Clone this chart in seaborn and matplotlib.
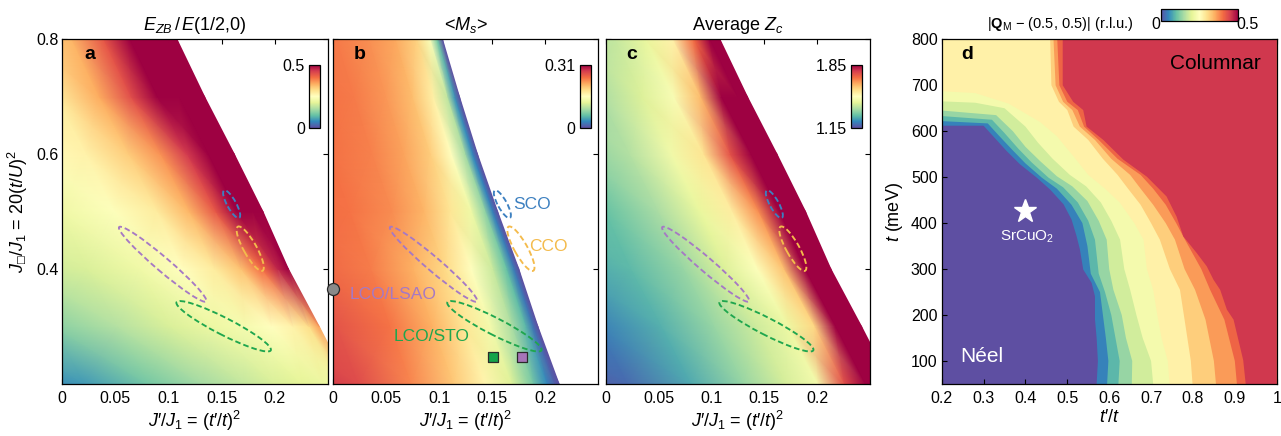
import numpy as np
import matplotlib
matplotlib.use("Agg")
import matplotlib.pyplot as plt
import seaborn as sns
from matplotlib.patches import Ellipse
from matplotlib.transforms import Affine2D
from matplotlib.colors import Normalize
from matplotlib.cm import ScalarMappable

sns.set_theme(style="ticks")
plt.rcParams.update({
    "font.family": ["Liberation Sans", "DejaVu Sans"],
    "mathtext.fontset": "custom",
    "mathtext.rm": "Liberation Sans",
    "mathtext.it": "Liberation Sans:italic",
    "mathtext.bf": "Liberation Sans:bold",
    "mathtext.fallback": "stix",
    "axes.edgecolor": "black",
    "axes.linewidth": 0.9,
    "xtick.color": "black", "ytick.color": "black",
    "xtick.direction": "in", "ytick.direction": "in",
    "xtick.top": True, "ytick.right": True,
    "xtick.major.size": 3.6, "ytick.major.size": 3.6,
    "xtick.major.width": 0.8, "ytick.major.width": 0.8,
    "xtick.labelsize": 11.5, "ytick.labelsize": 11.5,
    "xtick.major.pad": 5, "ytick.major.pad": 2.5,
    "text.color": "black", "axes.labelcolor": "black",
})

cmap = sns.color_palette("Spectral_r", as_cmap=True)

# ---------------------------------------------------------------------------
# Panels a-c: maps over (J'/J1, J_box/J1), tabulated row by row.
# Each row lists values at fixed distances to the left of the boundary of the
# stable region (white beyond it).
jbox_rows = [0.2, 0.3, 0.4, 0.5, 0.6, 0.7, 0.8]
edge_ac = [0.270, 0.242, 0.213, 0.189, 0.162, 0.134, 0.108]
edge_b = [0.213, 0.193, 0.175, 0.155, 0.136, 0.119, 0.103]
depth_ac = [0, 0.01, 0.025, 0.045, 0.07, 0.10, 0.14, 0.19, 0.25, 0.30]
depth_b = [0, 0.005, 0.012, 0.025, 0.045, 0.07, 0.10, 0.14, 0.19, 0.25, 0.30]

# E_ZB / E(1/2,0)
ezb_ratio = [
    [0.23, 0.22, 0.21, 0.20, 0.19, 0.17, 0.145, 0.11, 0.065, 0.045],
    [0.36, 0.30, 0.27, 0.25, 0.23, 0.215, 0.19, 0.16, 0.125, 0.12],
    [0.52, 0.47, 0.40, 0.33, 0.28, 0.25, 0.22, 0.19, 0.175, 0.175],
    [0.58, 0.55, 0.50, 0.42, 0.34, 0.28, 0.245, 0.22, 0.21, 0.21],
    [0.62, 0.57, 0.51, 0.45, 0.37, 0.32, 0.27, 0.25, 0.24, 0.24],
    [0.62, 0.58, 0.55, 0.51, 0.43, 0.35, 0.28, 0.27, 0.27, 0.27],
    [0.62, 0.58, 0.55, 0.51, 0.42, 0.34, 0.31, 0.30, 0.30, 0.30],
]
# staggered moment <M_s>
ms_moment = [
    [0.0, 0.012, 0.032, 0.07, 0.12, 0.165, 0.20, 0.235, 0.27, 0.287, 0.29],
    [0.0, 0.022, 0.058, 0.095, 0.14, 0.18, 0.215, 0.245, 0.263, 0.265, 0.265],
    [0.0, 0.025, 0.064, 0.11, 0.155, 0.19, 0.215, 0.24, 0.254, 0.254, 0.254],
    [0.0, 0.028, 0.082, 0.135, 0.18, 0.212, 0.233, 0.245, 0.25, 0.25, 0.25],
    [0.0, 0.032, 0.092, 0.155, 0.198, 0.222, 0.238, 0.247, 0.248, 0.248, 0.248],
    [0.0, 0.038, 0.105, 0.17, 0.208, 0.228, 0.242, 0.248, 0.248, 0.248, 0.248],
    [0.0, 0.07, 0.15, 0.195, 0.22, 0.232, 0.242, 0.245, 0.245, 0.245, 0.245],
]
# average Z_c
zc_average = [
    [1.95, 1.93, 1.90, 1.75, 1.465, 1.41, 1.34, 1.26, 1.185, 1.16],
    [1.95, 1.92, 1.86, 1.58, 1.45, 1.40, 1.34, 1.27, 1.21, 1.21],
    [1.95, 1.92, 1.86, 1.61, 1.49, 1.42, 1.34, 1.28, 1.25, 1.25],
    [1.95, 1.92, 1.87, 1.67, 1.54, 1.44, 1.36, 1.29, 1.29, 1.29],
    [1.95, 1.92, 1.88, 1.745, 1.56, 1.46, 1.37, 1.32, 1.32, 1.32],
    [1.95, 1.90, 1.85, 1.62, 1.48, 1.42, 1.36, 1.35, 1.35, 1.35],
    [1.95, 1.87, 1.71, 1.53, 1.44, 1.39, 1.37, 1.36, 1.36, 1.36],
]

# material regions: ends of the long axis (J'/J1, J_box/J1) and width in px
materials = ["SCO", "CCO", "LCO/LSAO", "LCO/STO"]
region_tips = [
    [(0.152, 0.538), (0.167, 0.488)],
    [(0.165, 0.475), (0.189, 0.396)],
    [(0.053, 0.474), (0.136, 0.343)],
    [(0.107, 0.343), (0.197, 0.258)],
]
region_width = [9, 13, 14, 17]
region_colors = ["#3d80c0", "#f4bb4c", "#a679c4", "#1fa64e"]
label_pos = [(0.187, 0.512), (0.203, 0.439), (0.056, 0.355), (0.093, 0.282)]

# samples in panel b
circle_pt = (0.0, 0.365)
square_x = [0.151, 0.178]
square_y = [0.247, 0.247]
square_colors = ["#15a34a", "#a775b8"]

# ---------------------------------------------------------------------------
# Panel d: contours between the colour bands of |Q_M - (0.5,0.5)| in the
# (t'/t, t) plane, from the bottom of the map to where they leave it.
contour_1 = [(0.570, 50), (0.573, 100), (0.570, 150), (0.566, 191), (0.566, 241),
             (0.558, 270), (0.538, 299), (0.530, 343), (0.522, 372), (0.510, 408),
             (0.491, 441), (0.459, 473), (0.427, 499), (0.387, 528), (0.355, 557),
             (0.323, 589), (0.300, 612), (0.2, 612)]
contour_2 = [(0.595, 50), (0.598, 100), (0.592, 150), (0.585, 200), (0.578, 250),
             (0.556, 290), (0.548, 350), (0.536, 400), (0.510, 440), (0.475, 475),
             (0.439, 499), (0.400, 530), (0.368, 560), (0.335, 592), (0.310, 617),
             (0.2, 622)]
contour_3 = [(0.622, 50), (0.625, 100), (0.615, 150), (0.605, 200), (0.590, 250),
             (0.575, 290), (0.566, 364), (0.550, 405), (0.525, 445), (0.490, 478),
             (0.455, 499), (0.415, 532), (0.383, 562), (0.350, 596), (0.320, 625),
             (0.2, 633)]
contour_4 = [(0.654, 50), (0.655, 100), (0.640, 150), (0.630, 200), (0.610, 255),
             (0.600, 300), (0.594, 364), (0.575, 405), (0.548, 448), (0.512, 480),
             (0.475, 502), (0.435, 535), (0.400, 566), (0.370, 600), (0.330, 635),
             (0.2, 645)]
contour_5 = [(0.705, 50), (0.700, 100), (0.680, 150), (0.665, 200), (0.650, 255),
             (0.636, 300), (0.626, 364), (0.605, 405), (0.580, 445), (0.545, 480),
             (0.506, 505), (0.465, 540), (0.430, 575), (0.400, 610), (0.350, 650),
             (0.28, 662), (0.2, 665)]
contour_6 = [(0.744, 50), (0.740, 100), (0.725, 150), (0.715, 200), (0.705, 255),
             (0.690, 300), (0.682, 364), (0.660, 400), (0.625, 445), (0.590, 475),
             (0.550, 505), (0.515, 545), (0.475, 589), (0.435, 620), (0.360, 660),
             (0.28, 683), (0.2, 687)]
contour_7 = [(0.799, 50), (0.795, 100), (0.780, 190), (0.769, 255), (0.745, 300),
             (0.721, 364), (0.700, 400), (0.675, 440), (0.645, 475), (0.620, 505),
             (0.585, 540), (0.550, 581), (0.515, 610), (0.500, 646), (0.480, 664),
             (0.462, 700), (0.459, 800)]
contour_8 = [(0.855, 50), (0.850, 100), (0.830, 190), (0.805, 255), (0.780, 300),
             (0.757, 364), (0.735, 400), (0.705, 440), (0.675, 475), (0.650, 505),
             (0.605, 540), (0.566, 581), (0.530, 610), (0.512, 646), (0.490, 664),
             (0.472, 700), (0.467, 800)]
contour_9 = [(0.905, 50), (0.900, 100), (0.875, 190), (0.841, 255), (0.820, 300),
             (0.781, 364), (0.760, 400), (0.735, 440), (0.705, 475), (0.675, 505),
             (0.620, 540), (0.575, 581), (0.540, 610), (0.525, 646), (0.500, 664),
             (0.481, 700), (0.476, 800)]
contour_10 = [(0.926, 50), (0.920, 102), (0.897, 190), (0.881, 212), (0.865, 255),
              (0.849, 277), (0.833, 306), (0.809, 335), (0.777, 371), (0.761, 414),
              (0.737, 458), (0.690, 501), (0.634, 538), (0.586, 581), (0.546, 610),
              (0.538, 646), (0.514, 664), (0.489, 700), (0.489, 800)]
contours_d = [contour_1, contour_2, contour_3, contour_4, contour_5,
              contour_6, contour_7, contour_8, contour_9, contour_10]
star_pt = (0.40, 427)

# ---------------------------------------------------------------------------
W, H = 1281, 436
fig = plt.figure(figsize=(W / 100, H / 100), dpi=100)


def add_axes(left, top, right, bottom):
    return fig.add_axes([left / W, 1 - bottom / H, (right - left) / W, (bottom - top) / H])


ax_a = add_axes(62.3, 39.3, 327.7, 384)
ax_b = add_axes(333.3, 39.3, 598.3, 384)
ax_c = add_axes(605.7, 39.3, 870, 384)
ax_d = add_axes(941.7, 39.3, 1276.7, 384)

XLIM, YLIM = (0, 0.25), (0.2, 0.8)
LABEL_FS = 13


def draw_map(ax, edge, depth, table, vmin, vmax):
    X = np.array(edge)[:, None] - np.array(depth)[None, :]
    Y = np.repeat(np.array(jbox_rows)[:, None], len(depth), axis=1)
    ax.pcolormesh(X, Y, np.array(table), shading="gouraud", cmap=cmap,
                  vmin=vmin, vmax=vmax, rasterized=True)
    ax.set_xlim(*XLIM)
    ax.set_ylim(*YLIM)
    ax.set_xticks([0, 0.05, 0.1, 0.15, 0.2], ["0", "0.05", "0.1", "0.15", "0.2"])
    ax.set_yticks([0.4, 0.6, 0.8])
    ax.set_xlabel("$J$′/$J_1$ = ($t$′/$t$)$^2$", fontsize=LABEL_FS, labelpad=2)


def inner_colorbar(ax, vmin, vmax, labels):
    cax = ax.inset_axes([0.93, 0.743, 0.041, 0.183])
    cb = fig.colorbar(ScalarMappable(Normalize(vmin, vmax), cmap), cax=cax)
    cb.outline.set_linewidth(0.9)
    cb.set_ticks([vmin, vmax], labels=labels)
    cax.yaxis.set_ticks_position("left")
    cax.tick_params(length=0, pad=3, labelsize=11.5, right=False)


def draw_regions(ax):
    bb = ax.get_position()
    sx = bb.width * W / (XLIM[1] - XLIM[0])
    sy = bb.height * H / (YLIM[1] - YLIM[0])
    to_data = Affine2D().scale(1 / sx, 1 / sy) + ax.transData
    for (p1, p2), wpx, col in zip(region_tips, region_width, region_colors):
        u1, v1, u2, v2 = p1[0] * sx, p1[1] * sy, p2[0] * sx, p2[1] * sy
        length = np.hypot(u2 - u1, v2 - v1)
        ang = np.degrees(np.arctan2(v2 - v1, u2 - u1))
        ax.add_patch(Ellipse(((u1 + u2) / 2, (v1 + v2) / 2), length - 1.5, wpx,
                             angle=ang, fill=False, ec=col, lw=1.35,
                             ls=(0, (3.0, 1.6)), transform=to_data))


def panel_letter(ax, s, x, y):
    ax.text(x, y, s, transform=ax.transAxes, fontsize=14, fontweight="bold",
            ha="center", va="center")


draw_map(ax_a, edge_ac, depth_ac, ezb_ratio, 0, 0.5)
draw_map(ax_b, edge_b, depth_b, ms_moment, 0, 0.31)
draw_map(ax_c, edge_ac, depth_ac, zc_average, 1.15, 1.85)
for ax in (ax_b, ax_c):
    ax.tick_params(labelleft=False)

ax_a.set_ylabel("$J_{□}/J_1$ = 20($t/U$)$^2$", fontsize=LABEL_FS, labelpad=5)
ax_a.set_title(r"$E_{ZB}\,/\,E$(1/2,0)", fontsize=LABEL_FS, pad=7)
ax_b.set_title(r"<$M_s$>", fontsize=LABEL_FS, pad=7)
ax_c.set_title(r"Average $Z_c$", fontsize=LABEL_FS, pad=7)

inner_colorbar(ax_a, 0, 0.5, ["0", "0.5"])
inner_colorbar(ax_b, 0, 0.31, ["0", "0.31"])
inner_colorbar(ax_c, 1.15, 1.85, ["1.15", "1.85"])

for ax in (ax_a, ax_b, ax_c):
    draw_regions(ax)

for name, col, (lx, ly) in zip(materials, region_colors, label_pos):
    ax_b.text(lx, ly, name, color=col, fontsize=12.5, ha="center", va="center")

sns.scatterplot(x=[circle_pt[0]], y=[circle_pt[1]], ax=ax_b, s=75, color="#8a8a8a",
                edgecolor="#2b2b2b", linewidth=0.9, clip_on=False, zorder=5)
sns.scatterplot(x=square_x, y=square_y, ax=ax_b, s=50, marker="s",
                hue=[0, 1], palette=square_colors, legend=False,
                edgecolor="#2b2b2b", linewidth=0.9, zorder=5)

panel_letter(ax_a, "a", 0.105, 0.955)
panel_letter(ax_b, "b", 0.10, 0.955)
panel_letter(ax_c, "c", 0.10, 0.955)

# ---------------------------------------------------------------------------
# panel d: banded map
band_colors = cmap(np.linspace(0, 10 / 11, 11))
x_lo, x_hi, t_lo, t_hi = 0.2, 1.0, 50, 800
ax_d.set_facecolor(band_colors[0])
for k, contour in enumerate(contours_d, start=1):
    xs = [p[0] for p in contour]
    ts = [p[1] for p in contour]
    xs += [xs[-1], x_hi, x_hi]
    ts += [t_hi, t_hi, t_lo]
    ax_d.fill(xs, ts, color=band_colors[k], lw=0)
ax_d.set_xlim(x_lo, x_hi)
ax_d.set_ylim(t_lo, t_hi)
ax_d.set_xticks(np.round(np.arange(0.2, 1.01, 0.1), 1),
                ["0.2", "0.3", "0.4", "0.5", "0.6", "0.7", "0.8", "0.9", "1"])
ax_d.set_yticks(range(100, 801, 100))
ax_d.tick_params(axis="y", pad=3)
ax_d.set_xlabel("$t$′/$t$", fontsize=LABEL_FS, labelpad=2)
ax_d.set_ylabel(r"$t$ (meV)", fontsize=LABEL_FS, labelpad=4)
ax_d.plot(*star_pt, marker="*", ms=17, color="white", mec="white", zorder=5)
ax_d.text(star_pt[0] + 0.005, 370, r"SrCuO$_2$", color="white", fontsize=11,
          ha="center", va="center")
ax_d.text(0.296, 109, "Néel", color="white", fontsize=15, ha="center", va="center")
ax_d.text(0.853, 748, "Columnar", color="black", fontsize=15, ha="center", va="center")
ax_d.text(0.261, 766, "d", fontsize=14, fontweight="bold", ha="center", va="center")
for sp in ax_d.spines.values():
    sp.set_zorder(6)

cax_d = fig.add_axes([1160.7 / W, 1 - 20.7 / H, 77.6 / W, 11.4 / H])
cb_d = fig.colorbar(ScalarMappable(Normalize(0, 0.5), cmap), cax=cax_d,
                    orientation="horizontal")
cb_d.outline.set_linewidth(0.9)
cb_d.set_ticks([])
cax_d.text(-0.06, -0.35, "0", transform=cax_d.transAxes, fontsize=11.5,
           ha="center", va="center")
cax_d.text(1.12, -0.35, "0.5", transform=cax_d.transAxes, fontsize=11.5,
           ha="center", va="center")
fig.text(1060 / W, 1 - 24 / H,
         r"|$\mathbf{Q}_\mathrm{M}$ − (0.5, 0.5)| (r.l.u.)", fontsize=10.5,
         ha="center", va="center")

fig.savefig("out.png", dpi=100)
